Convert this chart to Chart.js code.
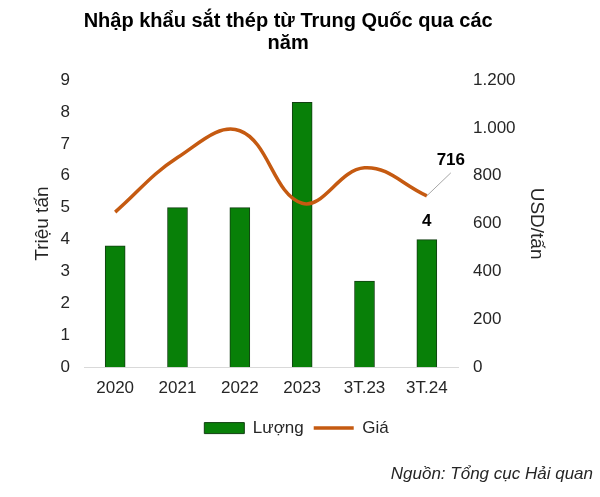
<!DOCTYPE html>
<html>
<head>
<meta charset="utf-8">
<script src="https://cdn.jsdelivr.net/npm/chart.js@4"></script>
<style>
  body { margin: 0; background: #fff; }
  #wrap { width: 600px; height: 497px; position: relative; }
</style>
</head>
<body>
<div id="wrap"><canvas id="chart"></canvas></div>
<script>
// data
const categories = ['2020', '2021', '2022', '2023', '3T.23', '3T.24'];
const luong = [3.8, 5.0, 5.0, 8.3, 2.7, 4.0];      // Triệu tấn
const gia = [648, 876, 988, 685, 833, 716];        // USD/tấn
const leftTicks = [0, 9, 1];
const rightTicks = [0, 1200, 200];

Chart.defaults.font.family = "'Liberation Sans', Arial, sans-serif";
Chart.defaults.font.size = 17;
Chart.defaults.color = '#262626';

// labels for the last point of each series
const lastLabels = {
    id: 'lastLabels',
    afterDatasetsDraw(chart) {
        const ctx = chart.ctx;
        const barEl = chart.getDatasetMeta(0).data[luong.length - 1];
        const lineEl = chart.getDatasetMeta(1).data[gia.length - 1];
        ctx.save();
        ctx.font = "bold 17px 'Liberation Sans', Arial, sans-serif";
        ctx.fillStyle = '#000';
        ctx.textAlign = 'center';
        ctx.textBaseline = 'middle';
        ctx.fillText(String(luong[luong.length - 1]), barEl.x, barEl.y - 18);
        // leader line + price label
        ctx.strokeStyle = '#a6a6a6';
        ctx.lineWidth = 1;
        ctx.beginPath();
        ctx.moveTo(lineEl.x, lineEl.y);
        ctx.lineTo(lineEl.x + 24, lineEl.y - 23);
        ctx.stroke();
        ctx.fillText(String(gia[gia.length - 1]), lineEl.x + 24, lineEl.y - 36);
        ctx.restore();
    }
};

new Chart(document.getElementById('chart'), {
    type: 'bar',
    data: {
        labels: categories,
        datasets: [{
            type: 'bar',
            label: 'Lượng',
            data: luong,
            yAxisID: 'y',
            backgroundColor: '#088008',
            borderColor: '#123f12',
            borderWidth: 1,
            barThickness: 20,
            order: 2
        }, {
            type: 'line',
            label: 'Giá',
            data: gia,
            yAxisID: 'y1',
            borderColor: '#c55a11',
            backgroundColor: '#c55a11',
            borderWidth: 3.5,
            tension: 0.4,
            pointRadius: 0,
            fill: false,
            order: 1
        }]
    },
    options: {
        responsive: true,
        maintainAspectRatio: false,
        animation: false,
        layout: { padding: { left: 0, right: 7, top: 0, bottom: 13 } },
        plugins: {
            title: {
                display: true,
                // trailing spaces nudge the centred title a little left, as in the source
                text: ['Nhập khẩu sắt thép từ Trung Quốc qua các\u00a0\u00a0\u00a0', 'năm\u00a0\u00a0\u00a0'],
                color: '#000',
                font: { size: 20, weight: 'bold', lineHeight: 1.1 },
                padding: { top: 10, bottom: 26 }
            },
            subtitle: {
                display: true,
                position: 'bottom',
                align: 'end',
                text: 'Nguồn: Tổng cục Hải quan',
                color: '#262626',
                font: { size: 17, style: 'italic' },
                padding: { top: 17, bottom: 0 }
            },
            legend: {
                position: 'bottom',
                labels: {
                    usePointStyle: true,
                    pointStyleWidth: 40,
                    boxHeight: 11,
                    padding: 10,
                    generateLabels(chart) {
                        const items = Chart.defaults.plugins.legend.labels.generateLabels(chart);
                        items.sort((a, b) => a.datasetIndex - b.datasetIndex);
                        items.forEach(it => { it.pointStyle = it.datasetIndex === 0 ? 'rect' : 'line'; });
                        return items;
                    }
                }
            },
            tooltip: { enabled: false }
        },
        scales: {
            x: {
                grid: { display: false, drawTicks: false },
                border: { display: true, color: '#d9d9d9', width: 1 },
                ticks: { padding: 11, color: '#262626' }
            },
            y: {
                position: 'left',
                min: leftTicks[0], max: leftTicks[1],
                ticks: { stepSize: leftTicks[2], padding: 14, color: '#262626' },
                grid: { display: false, drawTicks: false },
                border: { display: false },
                title: { display: true, text: 'Triệu tấn', color: '#262626', font: { size: 19 }, padding: { top: 31, bottom: 0 } },
                afterFit(scale) { scale.width = 84; }
            },
            y1: {
                position: 'right',
                min: rightTicks[0], max: rightTicks[1],
                ticks: {
                    stepSize: rightTicks[2], padding: 15, color: '#262626',
                    callback: v => String(v).replace(/\B(?=(\d{3})+(?!\d))/g, '.')
                },
                grid: { display: false, drawTicks: false },
                border: { display: false },
                title: { display: true, text: 'USD/tấn', color: '#262626', font: { size: 19 }, padding: { top: 45, bottom: 0 } },
                afterFit(scale) { scale.width = 135; }
            }
        }
    },
    plugins: [lastLabels]
});
</script>
</body>
</html>
